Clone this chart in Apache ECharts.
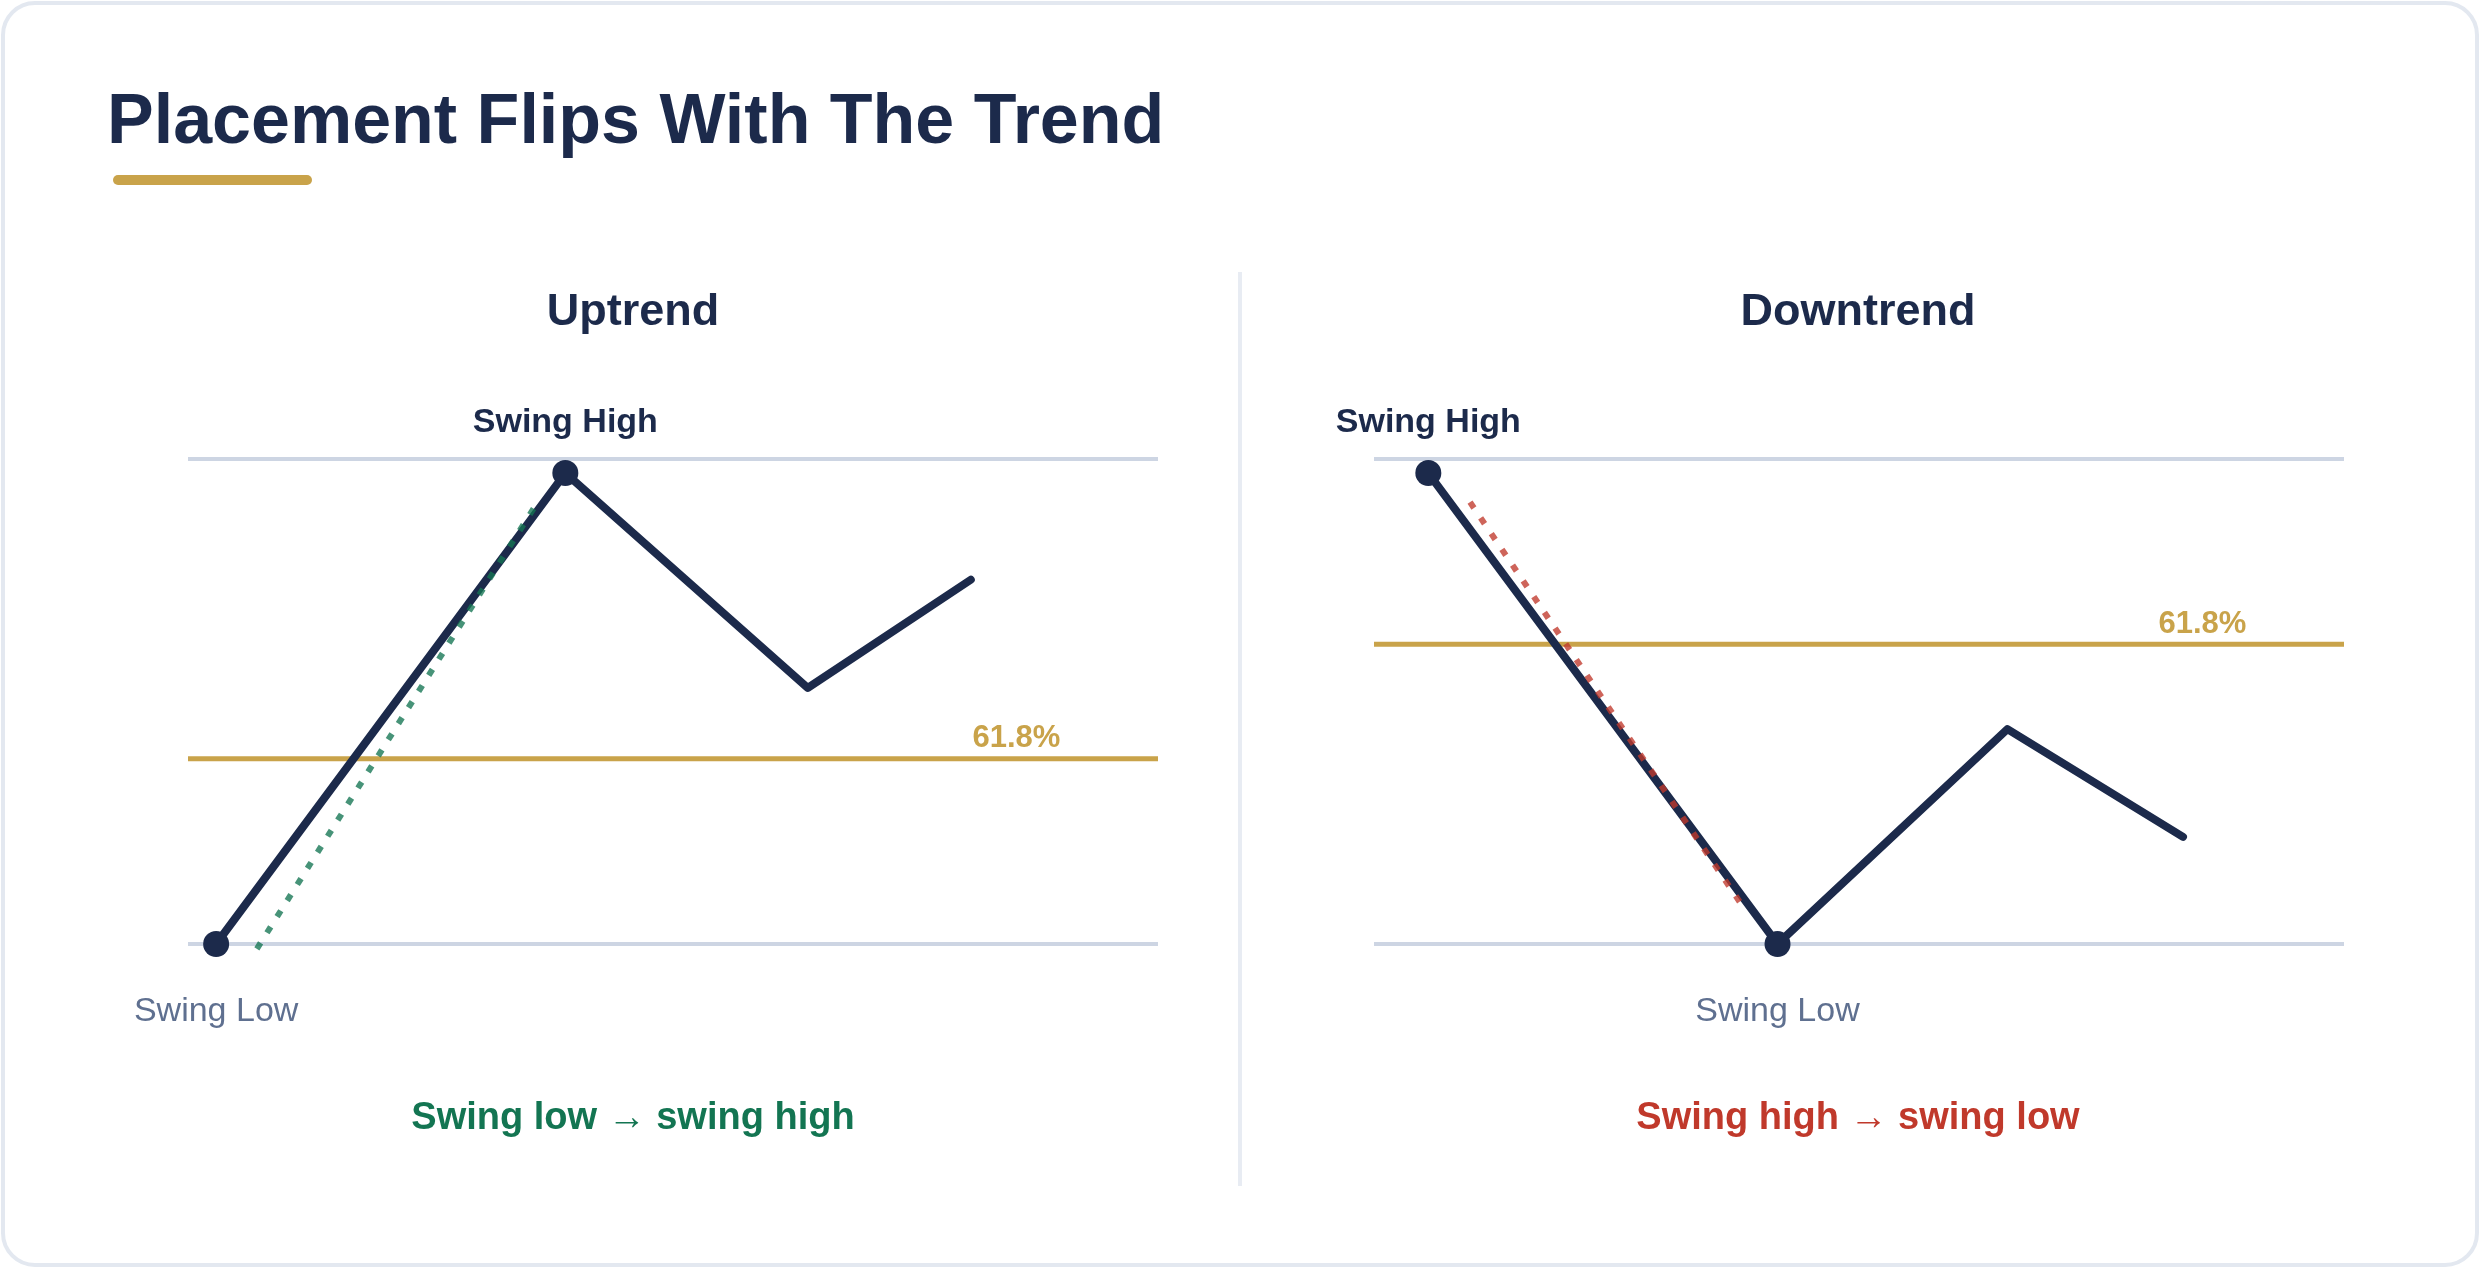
<!DOCTYPE html>
<html>
<head>
<meta charset="utf-8">
<script src="https://cdn.jsdelivr.net/npm/echarts@6/dist/echarts.min.js"></script>
<style>
  html, body { margin: 0; padding: 0; background: #fff; }
  #chart { width: 2480px; height: 1268px; }
</style>
</head>
<body>
<div id="chart"></div>
<script>
// colours
const FONT = '"Liberation Sans", Arial, sans-serif';
const NAVY = '#1c2a4b';
const GOLD = '#c9a34a';
const GRID_C = '#cdd5e3';
const GREEN = '#137552';
const RED = '#c0392b';
const MUTED = '#5f7090';

// price path, 0 = swing low line, 100 = swing high line
const upX = [2.9, 38.9, 63.9, 80.7];
const upY = [0, 97.1, 52.8, 75.1];
const upNames = ['Swing Low', 'Swing High', '', ''];

const downX = [5.6, 41.6, 65.3, 83.4];
const downY = [97.1, 0, 44.3, 22.1];
const downNames = ['Swing High', 'Swing Low', '', ''];

// fib placement (dotted guide from start to end of the swing)
const upGuideX = [7.1, 36.1];
const upGuideY = [-1.0, 91.3];
const downGuideX = [9.9, 38.2];
const downGuideY = [91.1, 7.2];

// retracement level
const fibUp = 38.2;
const fibDown = 61.8;
const fibText = '61.8%';
const fibLabelX = 85.4;

const panelTitles = ['Uptrend', 'Downtrend'];
const captions = ['Swing low \u2192 swing high', 'Swing high \u2192 swing low'];

function pricePoints(xs, ys, names) {
  return xs.map((x, i) => {
    const name = names[i];
    const isHigh = name === 'Swing High';
    return {
      value: [x, ys[i]],
      symbol: name ? 'circle' : 'none',
      symbolSize: 26,
      label: {
        show: !!name,
        formatter: name,
        position: isHigh ? 'top' : 'bottom',
        distance: isHigh ? 20 : 38,
        fontFamily: FONT,
        fontSize: 34,
        fontWeight: isHigh ? 'bold' : 'normal',
        color: isHigh ? NAVY : MUTED
      }
    };
  });
}

function pairs(xs, ys) {
  return xs.map((x, i) => [x, ys[i]]);
}

function panelSeries(i, xs, ys, names, gx, gy, guideColor, level) {
  return [
    {
      type: 'line', xAxisIndex: i, yAxisIndex: i, z: 2,
      data: [[0, level], [100, level]],
      symbol: 'none', silent: true,
      lineStyle: { color: GOLD, width: 5 }
    },
    {
      type: 'scatter', xAxisIndex: i, yAxisIndex: i, z: 2,
      data: [[fibLabelX, level]],
      symbolSize: 1, itemStyle: { color: 'rgba(255,255,255,0)' }, silent: true,
      label: {
        show: true, position: 'top', distance: 4, formatter: fibText,
        fontFamily: FONT, fontSize: 31, lineHeight: 31, fontWeight: 'bold', color: GOLD,
        textBorderWidth: 0, opacity: 1
      }
    },
    {
      type: 'line', xAxisIndex: i, yAxisIndex: i, z: 3,
      data: pricePoints(xs, ys, names),
      clip: false, silent: true,
      itemStyle: { color: NAVY },
      lineStyle: { color: NAVY, width: 8, cap: 'round', join: 'round' }
    },
    {
      type: 'line', xAxisIndex: i, yAxisIndex: i, z: 4,
      data: pairs(gx, gy),
      clip: false, symbol: 'none', silent: true,
      lineStyle: { color: guideColor, opacity: 0.78, width: 6, type: [7, 12], cap: 'butt' }
    }
  ];
}

const chart = echarts.init(document.getElementById('chart'));

chart.setOption({
  animation: false,
  backgroundColor: '#ffffff',
  grid: [
    { left: 188, top: 459, width: 970, height: 485 },
    { left: 1374, top: 459, width: 970, height: 485 }
  ],
  xAxis: [0, 1].map(i => ({ type: 'value', gridIndex: i, min: 0, max: 100, show: false })),
  yAxis: [0, 1].map(i => ({
    type: 'value', gridIndex: i, min: 0, max: 100, interval: 100,
    axisLine: { show: false }, axisTick: { show: false }, axisLabel: { show: false },
    splitLine: { show: true, lineStyle: { color: GRID_C, width: 4 } }
  })),
  graphic: [
    {
      type: 'rect', z: 0, silent: true,
      shape: { x: 3, y: 3, width: 2474, height: 1262, r: 32 },
      style: { fill: '#ffffff', stroke: '#e3e8f0', lineWidth: 4 }
    },
    {
      type: 'text', z: 1, x: 107, y: 124,
      style: {
        text: 'Placement Flips With The Trend', fill: NAVY,
        font: 'bold 70px ' + FONT, textAlign: 'left', textVerticalAlign: 'middle'
      }
    },
    {
      type: 'rect', z: 1,
      shape: { x: 113, y: 175, width: 199, height: 10, r: 5 },
      style: { fill: GOLD }
    },
    {
      type: 'line', z: 1,
      shape: { x1: 1240, y1: 272, x2: 1240, y2: 1186 },
      style: { stroke: '#e8ecf3', lineWidth: 4 }
    },
    {
      type: 'text', z: 1, x: 633, y: 313,
      style: { text: panelTitles[0], fill: NAVY, font: 'bold 45px ' + FONT, textAlign: 'center', textVerticalAlign: 'middle' }
    },
    {
      type: 'text', z: 1, x: 1858, y: 313,
      style: { text: panelTitles[1], fill: NAVY, font: 'bold 45px ' + FONT, textAlign: 'center', textVerticalAlign: 'middle' }
    },
    {
      type: 'text', z: 1, x: 633, y: 1119,
      style: { text: captions[0], fill: GREEN, font: 'bold 38px ' + FONT, textAlign: 'center', textVerticalAlign: 'middle' }
    },
    {
      type: 'text', z: 1, x: 1858, y: 1119,
      style: { text: captions[1], fill: RED, font: 'bold 38px ' + FONT, textAlign: 'center', textVerticalAlign: 'middle' }
    }
  ],
  series: [
    ...panelSeries(0, upX, upY, upNames, upGuideX, upGuideY, GREEN, fibUp),
    ...panelSeries(1, downX, downY, downNames, downGuideX, downGuideY, RED, fibDown)
  ]
});
</script>
</body>
</html>
